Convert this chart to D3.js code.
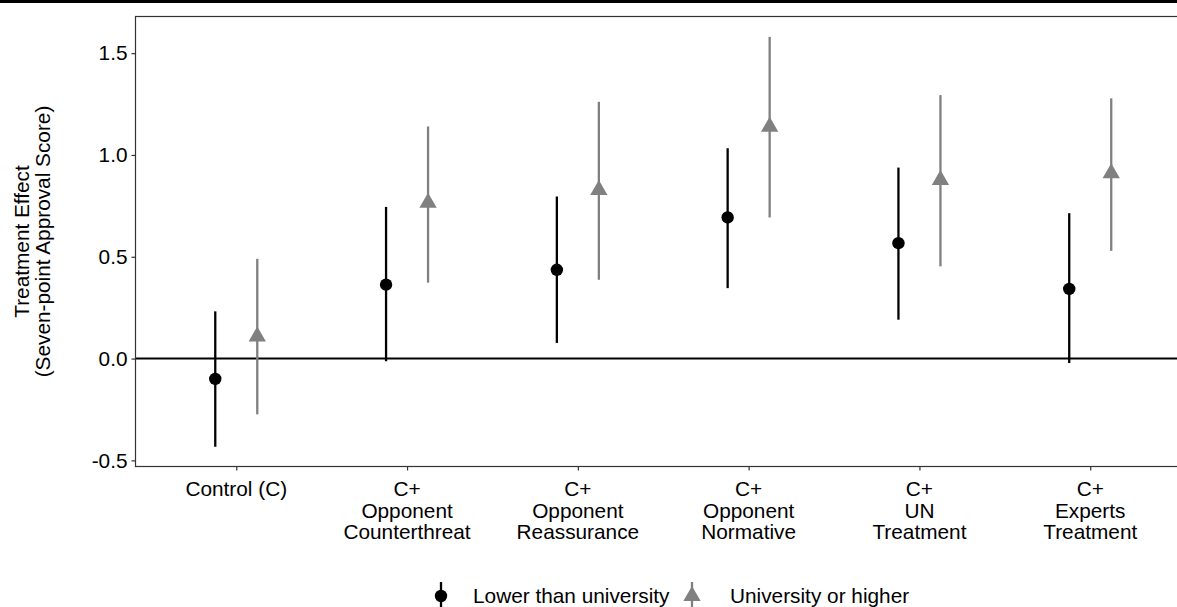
<!DOCTYPE html>
<html>
<head>
<meta charset="utf-8">
<script src="https://cdn.jsdelivr.net/npm/d3@7/dist/d3.min.js"></script>
<style>
  html, body { margin: 0; padding: 0; background: #fff; }
  svg { display: block; }
</style>
</head>
<body>
<script>
// Categories (multi-line labels) and estimates
const categories = ['Control (C)', 'C+ Counterthreat', 'C+ Reassurance', 'C+ Normative', 'C+ UN', 'C+ Experts']
const categoryLabels = [
  ['Control (C)'],
  ['C+', 'Opponent', 'Counterthreat'],
  ['C+', 'Opponent', 'Reassurance'],
  ['C+', 'Opponent', 'Normative'],
  ['C+', 'UN', 'Treatment'],
  ['C+', 'Experts', 'Treatment']
]
const groups = ['Lower than university', 'University or higher']

const lowerEst = [-0.10, 0.363, 0.436, 0.693, 0.567, 0.342]
const lowerLo = [-0.433, -0.013, 0.077, 0.346, 0.191, -0.022]
const lowerHi = [0.232, 0.745, 0.796, 1.033, 0.938, 0.714]

const upperEst = [0.109, 0.765, 0.828, 1.139, 0.877, 0.91]
const upperLo = [-0.274, 0.373, 0.387, 0.693, 0.453, 0.529]
const upperHi = [0.49, 1.14, 1.261, 1.58, 1.294, 1.278]

const yTicks = [-0.5, 0, 0.5, 1.0, 1.5]

const width = 1177
const height = 607
const font = 'Arial, "Liberation Sans", sans-serif'
const fontSize = 20.8

const panel = { left: 135.5, top: 16.5, right: 1191, bottom: 466.5 }

const svg = d3.select('body').append('svg')
  .attr('width', width)
  .attr('height', height)
  .attr('viewBox', `0 0 ${width} ${height}`)

// black strip at top of the image
svg.append('rect')
  .attr('x', 0).attr('y', 0)
  .attr('width', width).attr('height', 3)
  .attr('fill', '#000')

const x = d3.scalePoint()
  .domain(categories)
  .range([panel.left, panel.right])
  .padding(0.59)

const y = d3.scaleLinear()
  .domain([-0.53, 1.68])
  .range([panel.bottom, panel.top])

const dodge = 21

const series = [
  { name: groups[0], est: lowerEst, lo: lowerLo, hi: lowerHi, color: '#000000', shape: 'circle', off: -dodge },
  { name: groups[1], est: upperEst, lo: upperLo, hi: upperHi, color: '#808080', shape: 'triangle', off: dodge }
]

// Zero line
svg.append('line')
  .attr('x1', panel.left).attr('x2', width)
  .attr('y1', y(0)).attr('y2', y(0))
  .attr('stroke', '#000')
  .attr('stroke-width', 2)

const triangle = d3.symbol().type(d3.symbolTriangle).size(130)

series.forEach(s => {
  const rows = categories.map((c, i) => ({ c, est: s.est[i], lo: s.lo[i], hi: s.hi[i] }))
  const g = svg.append('g')

  g.selectAll('line')
    .data(rows)
    .join('line')
    .attr('x1', d => x(d.c) + s.off)
    .attr('x2', d => x(d.c) + s.off)
    .attr('y1', d => y(d.lo))
    .attr('y2', d => y(d.hi))
    .attr('stroke', s.color)
    .attr('stroke-width', 2.3)

  if (s.shape === 'circle') {
    g.selectAll('circle')
      .data(rows)
      .join('circle')
      .attr('cx', d => x(d.c) + s.off)
      .attr('cy', d => y(d.est))
      .attr('r', 6.2)
      .attr('fill', s.color)
  } else {
    g.selectAll('path')
      .data(rows)
      .join('path')
      .attr('transform', d => `translate(${x(d.c) + s.off},${y(d.est)})`)
      .attr('d', triangle)
      .attr('fill', s.color)
  }
})

// Panel border
svg.append('rect')
  .attr('x', panel.left).attr('y', panel.top)
  .attr('width', panel.right - panel.left)
  .attr('height', panel.bottom - panel.top)
  .attr('fill', 'none')
  .attr('stroke', '#333')
  .attr('stroke-width', 1.2)

// Y axis
const yAxis = svg.append('g')
  .attr('transform', `translate(${panel.left},0)`)
  .call(d3.axisLeft(y).tickValues(yTicks).tickSize(4).tickPadding(4).tickFormat(d3.format('.1f')))
yAxis.select('.domain').remove()
yAxis.selectAll('.tick line').attr('stroke', '#333').attr('stroke-width', 1.2)
yAxis.selectAll('.tick text')
  .attr('font-family', font)
  .attr('font-size', fontSize)
  .attr('fill', '#000')
  .text(d => d3.format('.1f')(d).replace('−', '-'))

// X axis
const xAxis = svg.append('g')
  .attr('transform', `translate(0,${panel.bottom})`)
  .call(d3.axisBottom(x).tickSize(4).tickFormat(''))
xAxis.select('.domain').remove()
xAxis.selectAll('.tick line').attr('stroke', '#333').attr('stroke-width', 1.2)

const lineH = 21.6
svg.append('g').selectAll('text')
  .data(categories)
  .join('text')
  .attr('x', d => x(d))
  .attr('y', 496)
  .attr('text-anchor', 'middle')
  .attr('font-family', font)
  .attr('font-size', fontSize)
  .attr('fill', '#000')
  .each(function (d, i) {
    d3.select(this).selectAll('tspan')
      .data(categoryLabels[i])
      .join('tspan')
      .attr('x', x(d))
      .attr('dy', (_, j) => j === 0 ? 0 : lineH)
      .text(t => t)
  })

// Y title
const yTitle = svg.append('text')
  .attr('transform', `translate(32,${(panel.top + panel.bottom) / 2}) rotate(-90)`)
  .attr('text-anchor', 'middle')
  .attr('font-family', font)
  .attr('font-size', fontSize)
  .attr('fill', '#000')
yTitle.append('tspan').attr('x', 0).attr('dy', -3.5).text('Treatment Effect')
yTitle.append('tspan').attr('x', 0).attr('dy', lineH).text('(Seven-point Approval Score)')

// Legend
const legendY = 596
const legend = svg.append('g')
const keys = [
  { name: groups[0], kx: 441, tx: 473, color: '#000', shape: 'circle' },
  { name: groups[1], kx: 692, tx: 730, color: '#808080', shape: 'triangle' }
]
keys.forEach(k => {
  legend.append('line')
    .attr('x1', k.kx).attr('x2', k.kx)
    .attr('y1', legendY - 14).attr('y2', legendY + 14)
    .attr('stroke', k.color)
    .attr('stroke-width', 2.3)
  if (k.shape === 'circle') {
    legend.append('circle').attr('cx', k.kx).attr('cy', legendY).attr('r', 6.2).attr('fill', k.color)
  } else {
    legend.append('path').attr('transform', `translate(${k.kx},${legendY})`).attr('d', triangle).attr('fill', k.color)
  }
  legend.append('text')
    .attr('x', k.tx).attr('y', legendY + 7)
    .attr('font-family', font)
    .attr('font-size', fontSize)
    .attr('fill', '#000')
    .text(k.name)
})
</script>
</body>
</html>
